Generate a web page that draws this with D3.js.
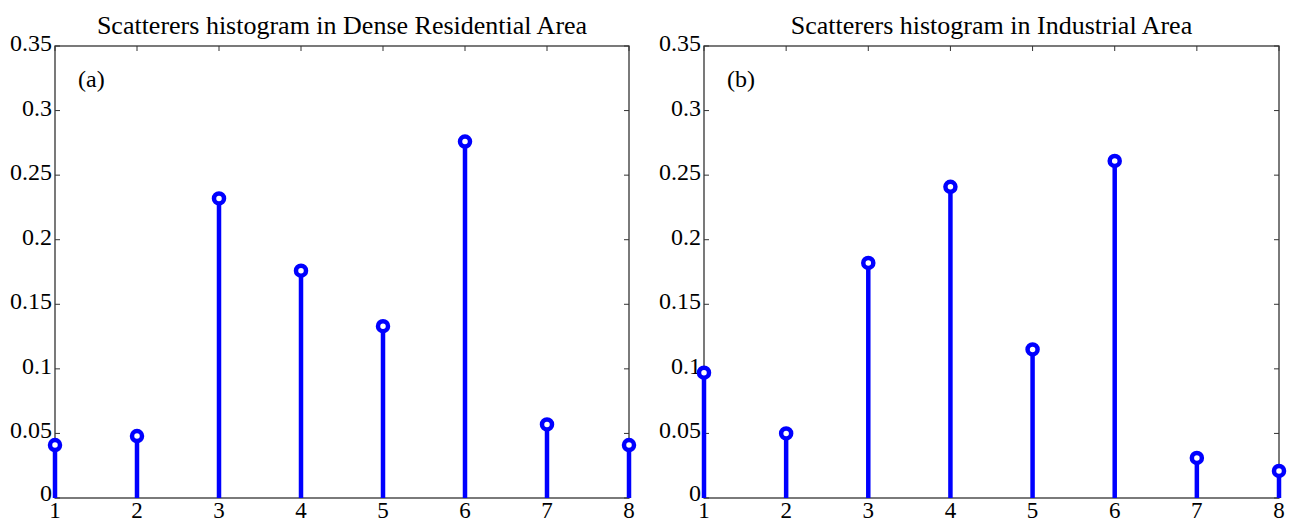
<!DOCTYPE html>
<html>
<head>
<meta charset="utf-8">
<script src="https://cdn.jsdelivr.net/npm/d3@7"></script>
<style>
  body { margin: 0; background: #fff; }
  text { font-family: "Liberation Serif", "Times New Roman", serif; fill: #000; }
</style>
</head>
<body>
<div id="chart"></div>
<script>
// data
var bins = [1, 2, 3, 4, 5, 6, 7, 8];
var denseResidential = [0.041, 0.048, 0.232, 0.176, 0.133, 0.276, 0.057, 0.041];
var industrial = [0.097, 0.050, 0.182, 0.241, 0.115, 0.261, 0.031, 0.021];
var yTicks = [0, 0.05, 0.1, 0.15, 0.2, 0.25, 0.3, 0.35];
var titles = ["Scatterers histogram in Dense Residential Area", "Scatterers histogram in Industrial Area"];
var tags = ["(a)", "(b)"];

var W = 1293, H = 522;
var svg = d3.select("#chart").append("svg").attr("width", W).attr("height", H);

function panel(x0, x1, vals, title, tag) {
  var top = 46, bottom = 498;
  var x = d3.scaleLinear().domain([1, 8]).range([x0, x1]);
  var y = d3.scaleLinear().domain([0, 0.35]).range([bottom, top]);
  var g = svg.append("g");

  // box
  g.append("rect").attr("x", x0).attr("y", top).attr("width", x1 - x0).attr("height", bottom - top)
    .attr("fill", "none").attr("stroke", "#333").attr("stroke-width", 1.3);

  // ticks inward (all four sides)
  var tl = 5;
  yTicks.forEach(function (t) {
    g.append("line").attr("x1", x0).attr("x2", x0 + tl).attr("y1", y(t)).attr("y2", y(t)).attr("stroke", "#333");
    g.append("line").attr("x1", x1).attr("x2", x1 - tl).attr("y1", y(t)).attr("y2", y(t)).attr("stroke", "#333");
    g.append("text").attr("x", x0 - 3).attr("y", y(t) + (t === 0 ? 3 : 5)).attr("text-anchor", "end")
      .style("font-size", "24px").text(t);
  });
  bins.forEach(function (b) {
    g.append("line").attr("x1", x(b)).attr("x2", x(b)).attr("y1", bottom).attr("y2", bottom - tl).attr("stroke", "#333");
    g.append("line").attr("x1", x(b)).attr("x2", x(b)).attr("y1", top).attr("y2", top + tl).attr("stroke", "#333");
    g.append("text").attr("x", x(b)).attr("y", 518).attr("text-anchor", "middle")
      .style("font-size", "23px").text(b);
  });

  // stems
  g.selectAll(".stem").data(bins).enter().append("line")
    .attr("x1", function (d) { return x(d); }).attr("x2", function (d) { return x(d); })
    .attr("y1", bottom).attr("y2", function (d, i) { return y(vals[i]); })
    .attr("stroke", "#0000ff").attr("stroke-width", 4.5);
  g.selectAll(".mark").data(bins).enter().append("circle")
    .attr("cx", function (d) { return x(d); }).attr("cy", function (d, i) { return y(vals[i]); })
    .attr("r", 5).attr("fill", "#fff").attr("stroke", "#0000ff").attr("stroke-width", 4.5);

  g.append("text").attr("x", (x0 + x1) / 2).attr("y", 34).attr("text-anchor", "middle")
    .style("font-size", "26px").text(title);
  g.append("text").attr("x", x0 + 23).attr("y", 87).style("font-size", "24px").text(tag);
}

panel(55, 629, denseResidential, titles[0], tags[0]);
panel(704, 1279, industrial, titles[1], tags[1]);
</script>
</body>
</html>
